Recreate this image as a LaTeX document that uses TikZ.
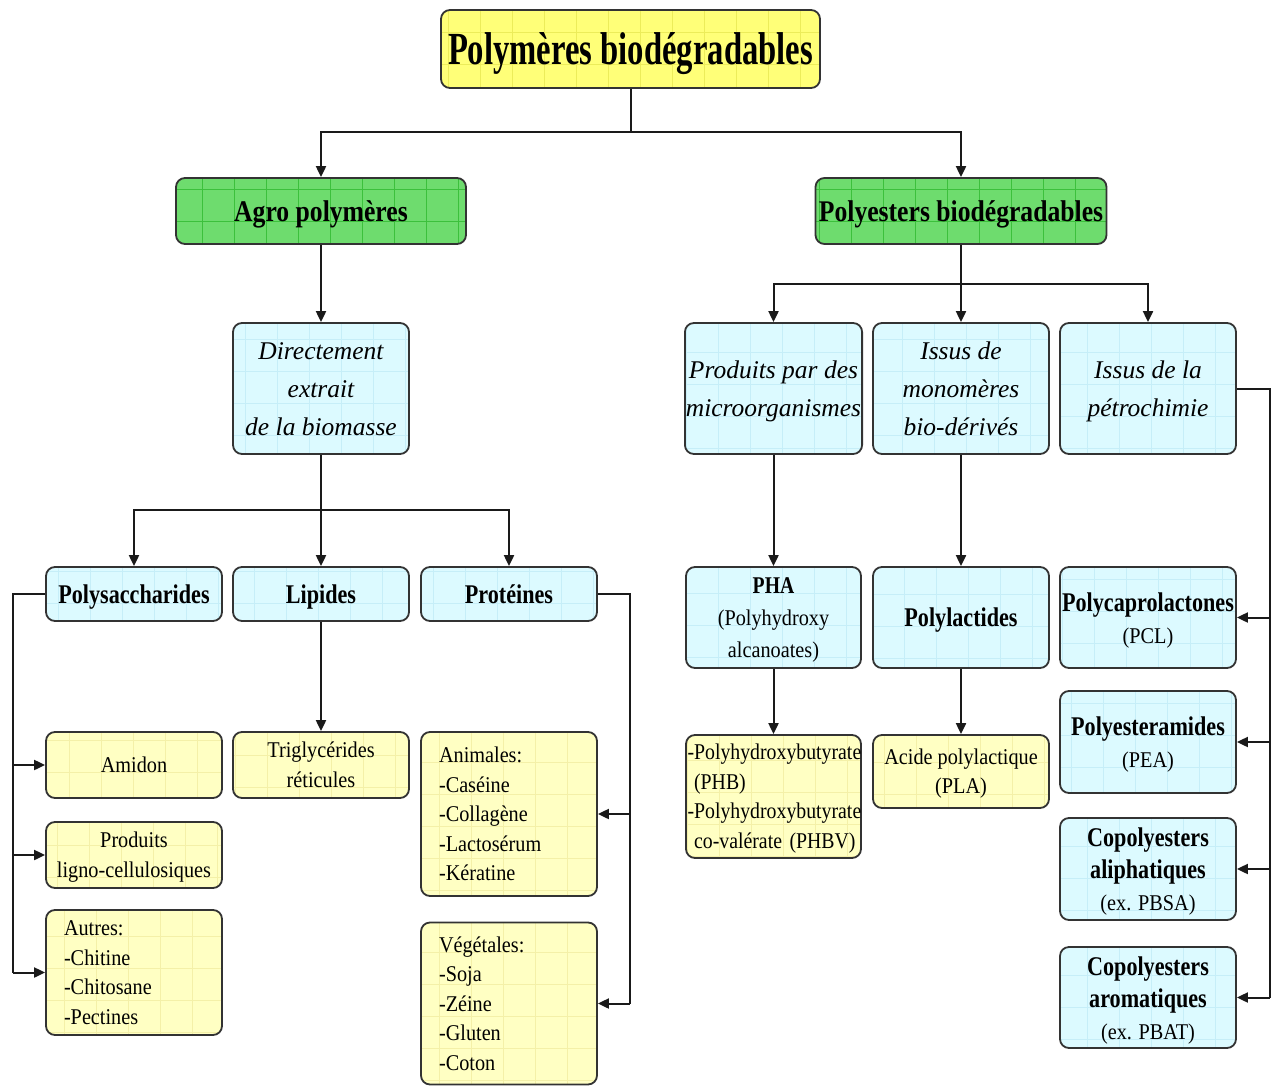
\documentclass[tikz,border=0pt]{standalone}
\usepackage{fontspec}
\setmainfont{Liberation Serif}
\newfontfamily\fT[FakeStretch=0.71]{Liberation Serif}
\newfontfamily\fH[FakeStretch=0.855]{Liberation Serif}
\newfontfamily\fB[FakeStretch=0.82]{Liberation Serif}
\newfontfamily\fR[FakeStretch=0.9]{Liberation Serif}
\newfontfamily\fRn[FakeStretch=0.88]{Liberation Serif}
\newfontfamily\fI{Liberation Serif}
\usetikzlibrary{arrows.meta}
\definecolor{bordc}{HTML}{333333}
\definecolor{linec}{HTML}{1A1A1A}
\definecolor{ttlfill}{HTML}{FFFF78}
\definecolor{ttlgrid}{HTML}{ECEC5A}
\definecolor{grnfill}{HTML}{6EDC6E}
\definecolor{grngrid}{HTML}{3CC03C}
\definecolor{cyfill}{HTML}{DCFAFF}
\definecolor{cygrid}{HTML}{C6EEF8}
\definecolor{ylfill}{HTML}{FFFFC3}
\definecolor{ylgrid}{HTML}{F4F0A8}
\newcommand{\sr}{\rule[-0.216em]{0pt}{1.107em}}
\newcommand{\bxb}[1]{{\fB\bfseries\fontsize{27}{32}\selectfont #1}}
\tikzset{
  bx/.style={draw=bordc, line width=1.8pt, rounded corners=9pt, inner sep=1pt, align=center, text=black},
  gbox/.style 2 args={bx, fill=#1, path picture={\draw[#2, line width=0.6pt, sharp corners, step=32pt] (path picture bounding box.south west) grid (path picture bounding box.north east);}},
  ttl/.style={gbox={ttlfill}{ttlgrid}, font={\fT\bfseries\fontsize{46}{50}\selectfont}},
  grn/.style={gbox={grnfill}{grngrid}, font={\fH\bfseries\fontsize{30}{34}\selectfont}},
  cyi/.style={gbox={cyfill}{cygrid}, font={\fI\itshape\fontsize{25.5}{38}\selectfont}},
  cyb/.style={gbox={cyfill}{cygrid}, font={\fB\bfseries\fontsize{27}{32}\selectfont}},
  cyr/.style={gbox={cyfill}{cygrid}, font={\fR\fontsize{22.5}{32}\selectfont}},
  yl/.style={gbox={ylfill}{ylgrid}, font={\fR\fontsize{22.5}{29.5}\selectfont}},
  yll/.style={yl, align=left},
  conn/.style={draw=linec, line width=2pt},
  arr/.style={conn, -{Triangle[length=11pt,width=10pt]}},
}
\begin{document}
\begin{tikzpicture}[x=1pt,y=-1pt]
\useasboundingbox (0,0) rectangle (1276,1086);
% top
\node[ttl, minimum width=379pt, minimum height=78pt] (title) at (630.5,49) {\sr Polymères biodégradables};
\node[grn, minimum width=290pt, minimum height=66pt] (agro) at (321,211) {\sr Agro polymères};
\node[grn, minimum width=291pt, minimum height=66pt] (poly) at (961,211) {\sr Polyesters biodégradables};
% left branch
\node[cyi, minimum width=176pt, minimum height=131pt] (direct) at (321,388.5) {\sr Directement\\extrait\\de la biomasse\sr};
\node[cyb, minimum width=176pt, minimum height=54pt] (polys) at (134,594) {\sr Polysaccharides};
\node[cyb, minimum width=176pt, minimum height=54pt] (lipides) at (321,594) {\sr Lipides};
\node[cyb, minimum width=176pt, minimum height=54pt] (prot) at (509,594) {\sr Protéines};
\node[yl, minimum width=176pt, minimum height=66pt] (amidon) at (134,765) {\sr Amidon};
\node[yl, minimum width=176pt, minimum height=66pt] (ligno) at (134,855) {\sr Produits\\ligno-cellulosiques\sr};
\node[yll, text width=140pt, inner xsep=18pt, minimum height=125pt] (autres) at (134,972.5) {\sr Autres:\\-Chitine\\-Chitosane\\-Pectines\sr};
\node[yl, minimum width=176pt, minimum height=66pt] (trig) at (321,765) {\sr Triglycérides\\réticules\sr};
\node[yll, text width=140pt, inner xsep=18pt, minimum height=164pt] (anim) at (509,814) {\sr Animales:\\-Caséine\\-Collagène\\-Lactosérum\\-Kératine\sr};
\node[yll, text width=140pt, inner xsep=18pt, minimum height=162pt] (vege) at (509,1003.5) {\sr Végétales:\\-Soja\\-Zéine\\-Gluten\\-Coton\sr};
% right branch
\node[cyi, minimum width=175pt, minimum height=131pt] (micro) at (773.5,388.5) {\sr Produits par des\\microorganismes\sr};
\node[cyi, minimum width=176pt, minimum height=131pt] (mono) at (961,388.5) {\sr Issus de\\monomères\\bio-dérivés\sr};
\node[cyi, minimum width=176pt, minimum height=131pt] (petro) at (1148,388.5) {\sr Issus de la\\pétrochimie\sr};
\node[cyr, minimum width=175pt, minimum height=101pt] (pha) at (773.5,617.5) {{\fB\bfseries\fontsize{24}{32}\selectfont\sr PHA}\\(Polyhydroxy\\alcanoates)\sr};
\node[cyb, minimum width=176pt, minimum height=101pt] (plact) at (961,617.5) {\sr Polylactides};
\node[cyr, minimum width=176pt, minimum height=101pt] (pcl) at (1148,617.5) {\bxb{\sr Polycaprolactones}\\(PCL)\sr};
\node[yll, text width=172pt, inner xsep=1.5pt, minimum height=123pt, font={\fRn\fontsize{22.5}{29.5}\selectfont}] (phb) at (773.5,796.5) {\sr\mbox{-Polyhydroxybutyrate}\\\phantom{-}(PHB)\\\mbox{-Polyhydroxybutyrate}\\\phantom{-}\mbox{co-valérate (PHBV)}\sr};
\node[yl, minimum width=176pt, minimum height=73pt] (pla) at (961,771.5) {\sr Acide polylactique\\(PLA)\sr};
\node[cyr, minimum width=176pt, minimum height=102pt] (pea) at (1148,742) {\bxb{\sr Polyesteramides}\\(PEA)\sr};
\node[cyr, minimum width=176pt, minimum height=102pt] (aliph) at (1148,869) {\bxb{\sr Copolyesters}\\\bxb{aliphatiques}\\(ex. PBSA)\sr};
\node[cyr, minimum width=176pt, minimum height=101pt] (arom) at (1148,997.5) {\bxb{\sr Copolyesters}\\\bxb{aromatiques}\\(ex. PBAT)\sr};
% connectors top
\coordinate (j1) at (630.5,132);
\draw[conn] (title.south) -- (j1);
\draw[arr] (j1) -| (agro.north);
\draw[arr] (j1) -| (poly.north);
% left
\draw[arr] (agro.south) -- (direct.north);
\coordinate (j2) at (321,510);
\draw[conn] (direct.south) -- (j2);
\draw[arr] (j2) -| (polys.north);
\draw[arr] (j2) -- (lipides.north);
\draw[arr] (j2) -| (prot.north);
\draw[arr] (lipides.south) -- (trig.north);
\coordinate (l1) at (13,594);
\draw[conn] (polys.west) -- (l1) -- (l1 |- autres.west);
\draw[arr] (l1 |- amidon.west) -- (amidon.west);
\draw[arr] (l1 |- ligno.west) -- (ligno.west);
\draw[arr] (l1 |- autres.west) -- (autres.west);
\coordinate (p1) at (630,594);
\draw[conn] (prot.east) -- (p1) -- (p1 |- vege.east);
\draw[arr] (p1 |- anim.east) -- (anim.east);
\draw[arr] (p1 |- vege.east) -- (vege.east);
% right
\coordinate (j3) at (961,284);
\draw[conn] (poly.south) -- (j3);
\draw[arr] (j3) -| (micro.north);
\draw[arr] (j3) -- (mono.north);
\draw[arr] (j3) -| (petro.north);
\draw[arr] (micro.south) -- (pha.north);
\draw[arr] (pha.south) -- (phb.north);
\draw[arr] (mono.south) -- (plact.north);
\draw[arr] (plact.south) -- (pla.north);
\coordinate (r1) at (1270,388.5);
\draw[conn] (petro.east) -- (r1) -- (r1 |- arom.east);
\draw[arr] (r1 |- pcl.east) -- (pcl.east);
\draw[arr] (r1 |- pea.east) -- (pea.east);
\draw[arr] (r1 |- aliph.east) -- (aliph.east);
\draw[arr] (r1 |- arom.east) -- (arom.east);
\end{tikzpicture}
\end{document}
